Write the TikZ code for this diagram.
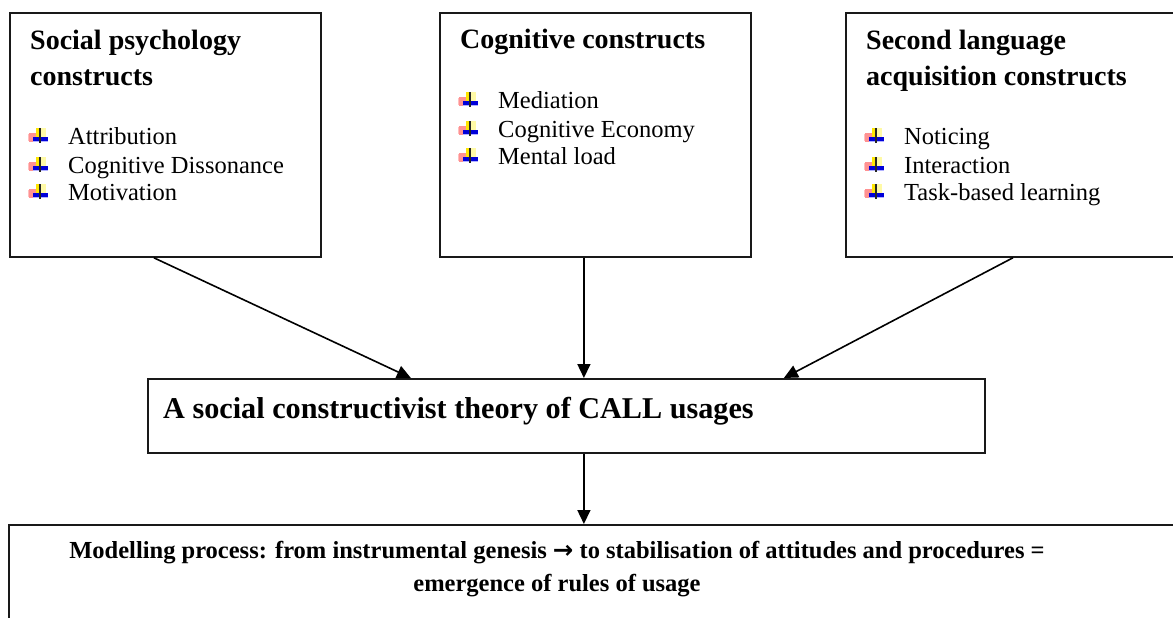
\documentclass[tikz,border=0pt]{standalone}
\usepackage{fontspec}
\setmainfont{Liberation Serif}
\newfontfamily\arrowfont{DejaVu Sans}
\usetikzlibrary{arrows.meta}
\tikzset{
  box/.style={draw=black!90, line width=1.8pt, inner sep=0pt, fill=none},
  conn/.style={line width=1.6pt, -{Triangle[length=14pt,width=13pt]}},
  ttl/.style={font=\fontsize{28}{35}\selectfont\bfseries, anchor=base west, inner sep=0pt},
  itm/.style={font=\fontsize{24.5}{28}\selectfont, anchor=base west, inner sep=0pt},
  midtxt/.style={font=\fontsize{30.2}{36}\selectfont\bfseries, anchor=base west, inner sep=0pt},
  bottxt/.style={font=\fontsize{24.5}{29}\selectfont\bfseries, anchor=base, inner sep=0pt},
  icon/.pic={
    \fill[red!50, opacity=0.85] (0,5) rectangle (9,14);
    \fill[red!25] (-1,6) rectangle (0,13);
    \fill[yellow!90!orange] (7,0) rectangle (12,10);
    \fill[yellow!35] (12,0) rectangle (17,10);
    \fill[blue!85!black] (4,9) rectangle (19,12.5);
    \fill[blue!30] (4,12.5) rectangle (19,13.5);
    \fill[black!85] (10,0) rectangle (12,15);
  }
}
\begin{document}
\begin{tikzpicture}[x=1pt,y=-1pt]
\path[use as bounding box] (0,0) rectangle (1173,618);
\fill[white] (0,0) rectangle (1173,618);
\clip (0,0) rectangle (1173,618);

% boxes
\node[box, minimum width=311pt, minimum height=244pt, anchor=north west] (b1) at (9,12) {};
\node[box, minimum width=311pt, minimum height=244pt, anchor=north west] (b2) at (439,12) {};
\node[box, minimum width=360pt, minimum height=244pt, anchor=north west] (b3) at (845,12) {};
\node[box, minimum width=837pt, minimum height=74pt, anchor=north west] (mid) at (147,378) {};
\node[box, minimum width=1200pt, minimum height=150pt, anchor=north west] (bot) at (8,524) {};

% box 1
\node[ttl] (t1a) at (30,50) {Social psychology};
\node[ttl] (t1b) at (30,85) {constructs};
\pic at (29,128) {icon};
\pic at (29,157) {icon};
\pic at (29,184) {icon};
\node[itm] (i1a) at (68,144) {Attribution};
\node[itm] (i1b) at (68,173) {Cognitive Dissonance};
\node[itm] (i1c) at (68,200) {Motivation};

% box 2
\node[ttl] (t2a) at (460,49) {Cognitive constructs};
\pic at (459,92) {icon};
\pic at (459,121) {icon};
\pic at (459,148) {icon};
\node[itm] (i2a) at (498,108) {Mediation};
\node[itm] (i2b) at (498,137) {Cognitive Economy};
\node[itm] (i2c) at (498,164) {Mental load};

% box 3
\node[ttl] (t3a) at (866,50) {Second language};
\node[ttl] (t3b) at (866,85) {acquisition constructs};
\pic at (865,128) {icon};
\pic at (865,157) {icon};
\pic at (865,184) {icon};
\node[itm] (i3a) at (904,144) {Noticing};
\node[itm] (i3b) at (904,173) {Interaction};
\node[itm] (i3c) at (904,200) {Task-based learning};

% middle
\node[midtxt] (mt) at (163,418) {A social constructivist theory of CALL usages};

% bottom
\node[bottxt] (bt1) at (557,558) {Modelling process: from instrumental genesis {\arrowfont\bfseries →} to stabilisation of attitudes and procedures =};
\node[bottxt] (bt2) at (557,591) {emergence of rules of usage};

% connectors
\draw[conn] ([xshift=-11.5pt]b1.south) -- ([xshift=-155.5pt]mid.north);
\draw[conn] ([xshift=-11.5pt]b2.south) -- ([xshift=-11.5pt]b2.south |- mid.north);
\draw[conn] ([xshift=-13pt]b3.south) -- ([xshift=217.5pt]mid.north);
\draw[conn] ([xshift=-11.5pt]b2.south |- mid.south) -- ([xshift=-11.5pt]b2.south |- bot.north);
\end{tikzpicture}
\end{document}
